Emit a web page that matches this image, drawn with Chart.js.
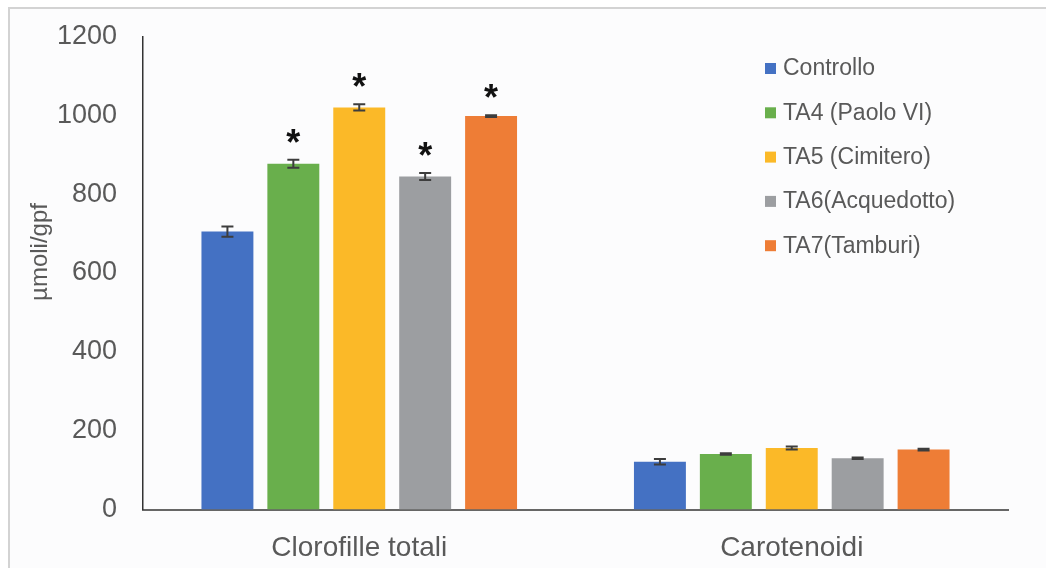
<!DOCTYPE html>
<html lang="it">
<head>
<meta charset="utf-8">
<title>Clorofille totali e carotenoidi</title>
<script src="https://cdn.jsdelivr.net/npm/chart.js@4.4.1/dist/chart.umd.min.js"></script>
<style>
  html, body { margin: 0; padding: 0; background: #ffffff; overflow: hidden; }
  #wrap { position: relative; width: 1046px; height: 568px; }
  canvas { display: block; }
</style>
</head>
<body>
<div id="wrap"><canvas id="chart" width="1046" height="568"></canvas></div>
<script>
// Categories and series (µmoli/gpf)
const categories = ['Clorofille totali', 'Carotenoidi'];
const seriesNames = ['Controllo', 'TA4 (Paolo VI)', 'TA5 (Cimitero)', 'TA6(Acquedotto)', 'TA7(Tamburi)'];

const controllo     = [705, 121];
const ta4PaoloVI    = [877, 141];
const ta5Cimitero   = [1020, 156];
const ta6Acquedotto = [845, 130];
const ta7Tamburi    = [998, 152];

// Standard errors
const errControllo = [13, 7];
const errTA4       = [10, 2];
const errTA5       = [8, 4];
const errTA6       = [9, 2];
const errTA7       = [2, 2];

// Significance marks
const sigControllo = ['', ''];
const sigTA4       = ['*', ''];
const sigTA5       = ['*', ''];
const sigTA6       = ['*', ''];
const sigTA7       = ['*', ''];

const yTicks = [0, 200, 400, 600, 800, 1000, 1200];

const colors = ['#4471C3', '#69AF4C', '#FBB928', '#9C9EA1', '#EE7D36'];
const values = [controllo, ta4PaoloVI, ta5Cimitero, ta6Acquedotto, ta7Tamburi];
const errors = [errControllo, errTA4, errTA5, errTA6, errTA7];
const marks  = [sigControllo, sigTA4, sigTA5, sigTA6, sigTA7];

const FONT = '"Liberation Sans", Arial, sans-serif';
const TEXT = '#595959';

const datasets = seriesNames.map((name, i) => ({
  label: name,
  data: values[i],
  backgroundColor: colors[i],
  borderWidth: 0,
  categoryPercentage: 0.762,
  barPercentage: 0.788,
  errors: errors[i],
  marks: marks[i]
}));

// Light frame around the figure
const framePlugin = {
  id: 'frame',
  beforeDraw(chart) {
    const ctx = chart.ctx;
    ctx.save();
    ctx.fillStyle = '#ffffff';
    ctx.fillRect(0, 0, chart.width, chart.height);
    ctx.fillStyle = '#fcfcfd';
    ctx.fillRect(9, 9, chart.width - 9, chart.height - 9);
    ctx.strokeStyle = '#d3d3d3';
    ctx.lineWidth = 2;
    ctx.beginPath();
    ctx.moveTo(9, chart.height);
    ctx.lineTo(9, 8);
    ctx.lineTo(chart.width, 8);
    ctx.stroke();
    ctx.restore();
  }
};

// Error bars and significance asterisks
const errorBarPlugin = {
  id: 'errorBars',
  afterDatasetsDraw(chart) {
    const ctx = chart.ctx;
    const y = chart.scales.y;
    ctx.save();
    chart.data.datasets.forEach((ds, i) => {
      const meta = chart.getDatasetMeta(i);
      meta.data.forEach((bar, j) => {
        const v = ds.data[j];
        const e = ds.errors[j];
        const yTop = y.getPixelForValue(v + e);
        const yBot = y.getPixelForValue(v - e);
        const x = bar.x;
        ctx.strokeStyle = '#3d3d3d';
        ctx.lineWidth = 2;
        ctx.beginPath();
        ctx.moveTo(x, yTop); ctx.lineTo(x, yBot);
        ctx.moveTo(x - 6, yTop); ctx.lineTo(x + 6, yTop);
        ctx.moveTo(x - 6, yBot); ctx.lineTo(x + 6, yBot);
        ctx.stroke();
        const m = ds.marks[j];
        if (m) {
          ctx.fillStyle = '#111111';
          ctx.font = 'bold 36px ' + FONT;
          ctx.textAlign = 'center';
          ctx.textBaseline = 'alphabetic';
          ctx.fillText(m, x, yTop - 5);
        }
      });
    });
    ctx.restore();
  }
};

// Legend drawn inside the plot area, top right
const legendPlugin = {
  id: 'sideLegend',
  afterDraw(chart) {
    const ctx = chart.ctx;
    ctx.save();
    ctx.font = '23px ' + FONT;
    ctx.textBaseline = 'middle';
    ctx.textAlign = 'left';
    chart.data.datasets.forEach((ds, i) => {
      const cy = 68 + i * 44.3;
      ctx.fillStyle = ds.backgroundColor;
      ctx.fillRect(765, cy - 5, 11, 11);
      ctx.fillStyle = TEXT;
      ctx.fillText(ds.label, 783, cy + 1);
    });
    ctx.restore();
  }
};

// Vertical axis title
const yTitlePlugin = {
  id: 'yTitle',
  afterDraw(chart) {
    const ctx = chart.ctx;
    ctx.save();
    ctx.translate(40, 252);
    ctx.rotate(-Math.PI / 2);
    ctx.font = '24px ' + FONT;
    ctx.fillStyle = TEXT;
    ctx.textAlign = 'center';
    ctx.textBaseline = 'middle';
    ctx.fillText('µmoli/gpf', 0, 0);
    ctx.restore();
  }
};

new Chart(document.getElementById('chart'), {
  type: 'bar',
  data: { labels: categories, datasets },
  options: {
    responsive: false,
    animation: false,
    devicePixelRatio: 1,
    layout: { padding: { top: 36.5, right: 38, bottom: 0, left: 0 } },
    plugins: {
      legend: { display: false },
      tooltip: { enabled: false }
    },
    scales: {
      x: {
        grid: { display: false, drawTicks: false },
        border: { display: true, color: '#666666', width: 2 },
        ticks: { color: TEXT, font: { family: FONT, size: 28 }, padding: 22 },
        afterFit(scale) { scale.height = 58.5; }
      },
      y: {
        min: 0,
        max: 1200,
        afterBuildTicks(scale) { scale.ticks = yTicks.map(v => ({ value: v })); },
        grid: { display: false, drawTicks: false },
        border: { display: true, color: '#333333', width: 1.5 },
        ticks: {
          color: TEXT,
          font: { family: FONT, size: 27 },
          padding: 26,
          callback: (value) => String(value)
        },
        afterFit(scale) {
          scale.width = 143;
          scale.paddingTop = 0;
          scale.paddingBottom = 0;
        }
      }
    }
  },
  plugins: [framePlugin, errorBarPlugin, legendPlugin, yTitlePlugin]
});
</script>
</body>
</html>
